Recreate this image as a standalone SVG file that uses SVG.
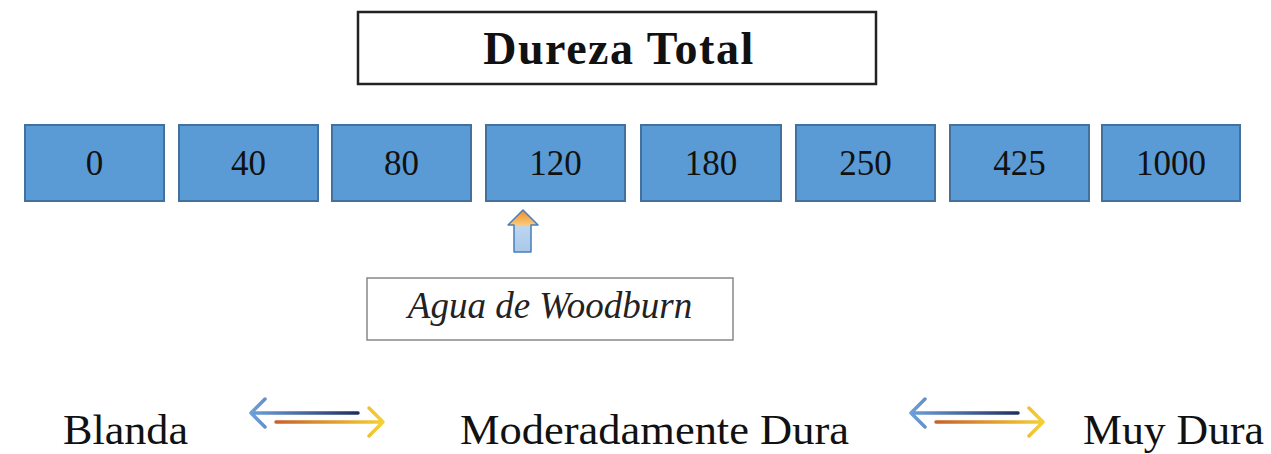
<svg xmlns="http://www.w3.org/2000/svg" width="1271" height="454" viewBox="0 0 1271 454">
<style>
.box{fill:#5b9bd5;stroke:#41719c;stroke-width:2}
.num{font-family:"Liberation Serif","Times New Roman",serif;font-size:35px;fill:#111;text-anchor:middle}
.lbl{font-family:"Liberation Serif","Times New Roman",serif;font-size:43px;fill:#111}
</style>
<defs>
<linearGradient id="up" x1="0" y1="0" x2="0" y2="1">
<stop offset="0" stop-color="#f08a24"/>
<stop offset="0.35" stop-color="#f9c97a"/>
<stop offset="0.4" stop-color="#bcd6f0"/>
<stop offset="1" stop-color="#a9c8ea"/>
</linearGradient>
<linearGradient id="bl" x1="0" y1="0" x2="1" y2="0">
<stop offset="0" stop-color="#6d9fd8"/>
<stop offset="1" stop-color="#1f3060"/>
</linearGradient>
<linearGradient id="or" x1="0" y1="0" x2="1" y2="0">
<stop offset="0" stop-color="#c8612a"/>
<stop offset="1" stop-color="#f5d033"/>
</linearGradient>
<g id="dbl">
<path d="M265,399 L251,413 L265,427 M251,413 L358,413" fill="none" stroke="url(#bl)" stroke-width="3.5" stroke-linecap="round" stroke-linejoin="round"/>
<path d="M276,422 L383,422 M369,408 L383,422 L369,436" fill="none" stroke="url(#or)" stroke-width="3.5" stroke-linecap="round" stroke-linejoin="round"/>
</g>
</defs>
<rect width="1271" height="454" fill="#fff"/>
<g id="title">
<rect x="358" y="12" width="518" height="72" fill="#fff" stroke="#222" stroke-width="2.5"/>
<text x="619" y="64" text-anchor="middle" font-family="Liberation Serif,Times New Roman,serif" font-weight="bold" font-size="46" letter-spacing="1.5" fill="#111">Dureza Total</text>
</g>
<g id="b0"><rect class="box" x="25" y="125" width="139" height="76"/><text class="num" x="94.5" y="175">0</text></g>
<g id="b40"><rect class="box" x="179" y="125" width="139" height="76"/><text class="num" x="248.5" y="175">40</text></g>
<g id="b80"><rect class="box" x="332" y="125" width="139" height="76"/><text class="num" x="401.5" y="175">80</text></g>
<g id="b120"><rect class="box" x="486" y="125" width="139" height="76"/><text class="num" x="555.5" y="175">120</text></g>
<g id="b180"><rect class="box" x="641" y="125" width="140" height="76"/><text class="num" x="711" y="175">180</text></g>
<g id="b250"><rect class="box" x="796" y="125" width="139" height="76"/><text class="num" x="865.5" y="175">250</text></g>
<g id="b425"><rect class="box" x="950" y="125" width="139" height="76"/><text class="num" x="1019.5" y="175">425</text></g>
<g id="b1000"><rect class="box" x="1102" y="125" width="138" height="76"/><text class="num" x="1171" y="175">1000</text></g>
<g id="woodburn">
<rect x="367" y="278" width="366" height="62" fill="#fff" stroke="#888" stroke-width="1.5"/>
<text x="550" y="318" text-anchor="middle" font-family="Liberation Serif,Times New Roman,serif" font-style="italic" font-size="37" fill="#222">Agua de Woodburn</text>
</g>
<g id="connectors">
<path d="M523,210 L538,225 L531,225 L531,252 L514,252 L514,225 L508,225 Z" fill="url(#up)" stroke="#4a7ebb" stroke-width="1.5" stroke-linejoin="round"/>
<use href="#dbl"/>
<use href="#dbl" transform="translate(660,0)"/>
</g>
<g id="labels">
<text class="lbl" x="63" y="444" textLength="125" lengthAdjust="spacingAndGlyphs">Blanda</text>
<text class="lbl" x="460" y="444" textLength="389" lengthAdjust="spacingAndGlyphs">Moderadamente Dura</text>
<text class="lbl" x="1083" y="444" textLength="181" lengthAdjust="spacingAndGlyphs">Muy Dura</text>
</g>
</svg>
